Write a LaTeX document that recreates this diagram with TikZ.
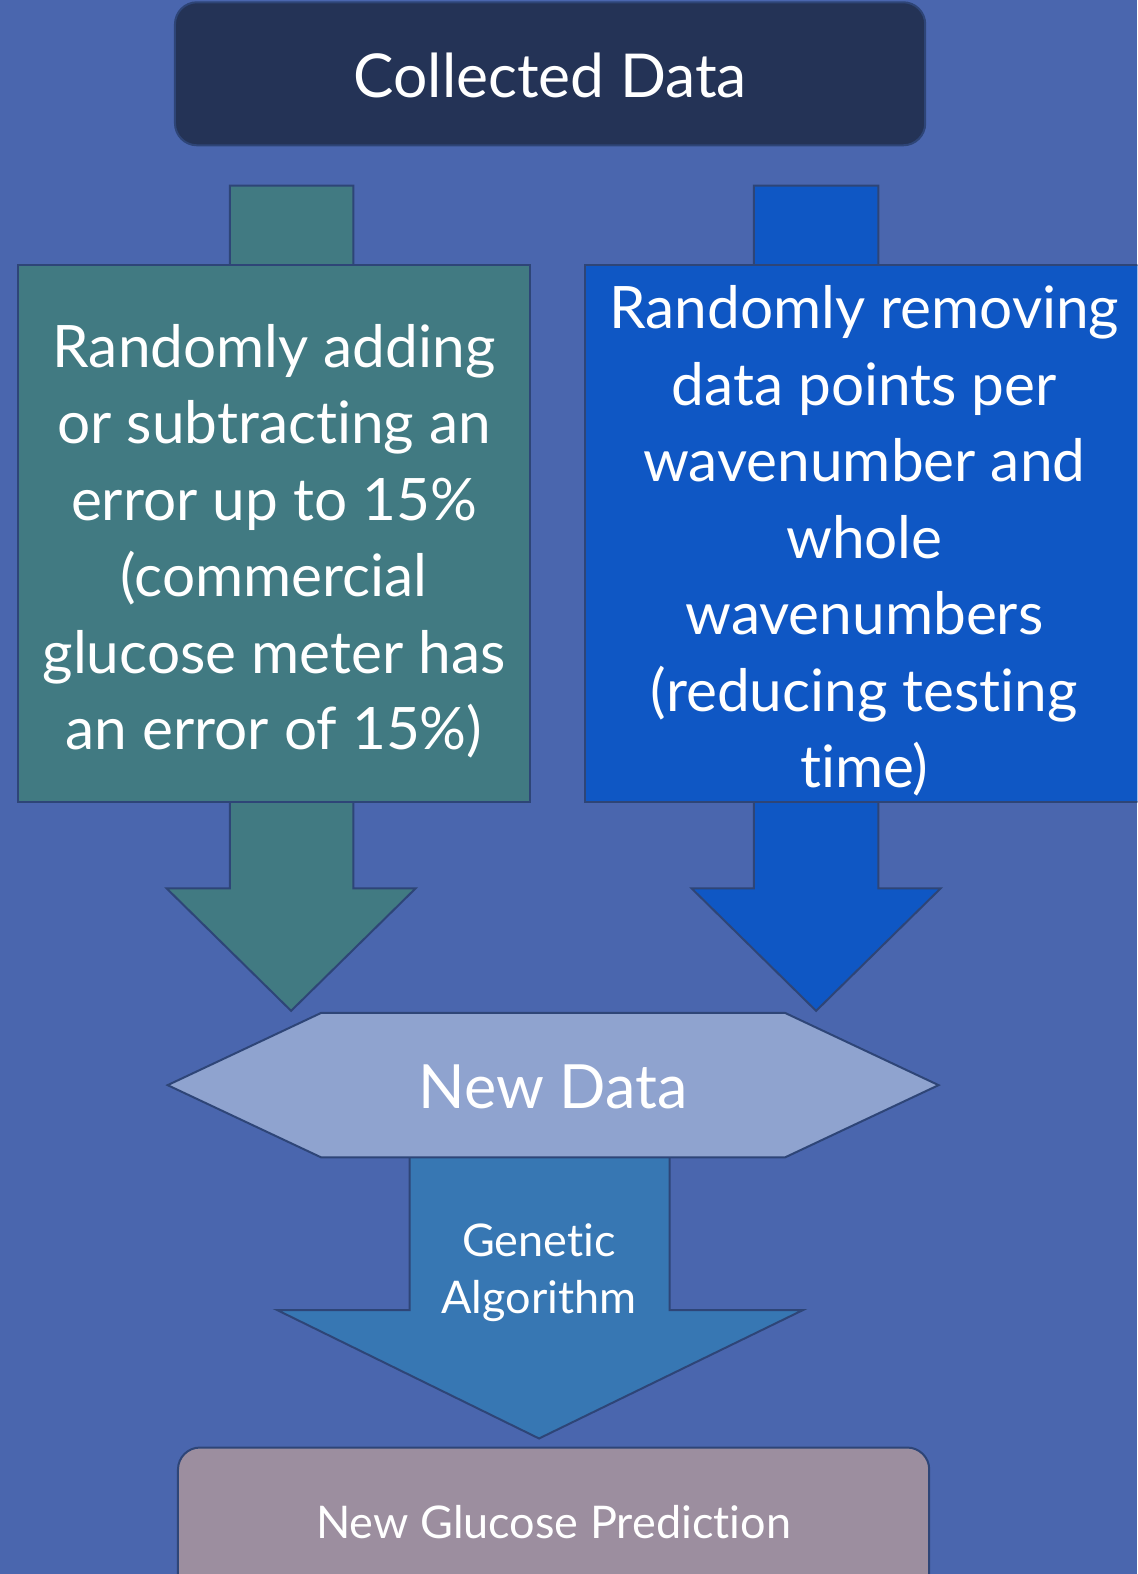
\documentclass[tikz,border=0pt]{standalone}
\usepackage{fontspec}
\setmainfont{Lato}[Ligatures=NoCommon]
\usetikzlibrary{positioning}
\definecolor{bg}{HTML}{4A66AE}
\definecolor{edge}{HTML}{2E4577}
\definecolor{topfill}{HTML}{243356}
\definecolor{teal}{HTML}{417A82}
\definecolor{brightblue}{HTML}{0F57C4}
\definecolor{hexfill}{HTML}{8FA3CF}
\definecolor{gafill}{HTML}{3777B3}
\definecolor{botfill}{HTML}{9C8E9F}
\tikzset{
  shapeline/.style={draw=edge, line width=2pt, line join=miter},
  txt/.style={text=white, align=center, inner sep=0pt},
  bigtxt/.style={txt, font=\fontsize{58.5}{76.5}\selectfont},
}
\begin{document}
\begin{tikzpicture}[x=1.0035pt, y=-1.0035pt]
\fill[bg] (0,0) rectangle (1133,1568);
\useasboundingbox (0,0) rectangle (1133,1568);
\clip (0,0) rectangle (1133,1568);
% block arrows
\draw[shapeline, fill=teal] (229,185) -- (352,185) -- (352,885) -- (414,885) -- (290,1007) -- (166,885) -- (229,885) -- cycle;
\draw[shapeline, fill=brightblue] (751,185) -- (875,185) -- (875,885) -- (937,885) -- (813,1007) -- (689,885) -- (751,885) -- cycle;
\draw[shapeline, fill=gafill] (408,1140) -- (667,1140) -- (667,1305) -- (800,1305) -- (537,1433) -- (276,1305) -- (408,1305) -- cycle;
% top box
\node[shapeline, fill=topfill, rounded corners=22pt, minimum width=750pt, minimum height=143pt, inner sep=0pt] (collected) at (548,73.5) {};
\node[txt, font=\fontsize{60.5}{70}\selectfont] at (548,75) {Collected Data};
% left box
\node[shapeline, fill=teal, minimum width=512pt, minimum height=537pt, inner sep=0pt] (left) at (273,531.5) {};
\node[bigtxt] at (273,539) {Randomly adding\\or subtracting an\\error up to 15\%\\(commercial\\glucose meter has\\an error of 15\%)};
% right box
\node[shapeline, fill=brightblue, minimum width=560pt, minimum height=537pt, inner sep=0pt] (right) at (862,531.5) {};
\node[bigtxt] at (861,539) {Randomly removing\\data points per\\wavenumber and\\whole\\wavenumbers\\(reducing testing\\time)};
% hexagon
\draw[shapeline, fill=hexfill] (320,1009) -- (782,1009) -- (935,1081) -- (782,1153) -- (320,1153) -- (167,1081) -- cycle;
\node[txt, font=\fontsize{61}{64}\selectfont] (newdata) at (551,1083) {New Data};
% GA label
\node[txt, font=\fontsize{45}{57}\selectfont] (ga) at (537,1268) {Genetic\\Algorithm};
% bottom box
\node[shapeline, fill=botfill, rounded corners=22pt, minimum width=751pt, minimum height=200pt, inner sep=0pt, anchor=north] (pred) at (551.5,1441) {};
\node[txt, font=\fontsize{45}{50}\selectfont] at (551.5,1516) {New Glucose Prediction};
\end{tikzpicture}
\end{document}
